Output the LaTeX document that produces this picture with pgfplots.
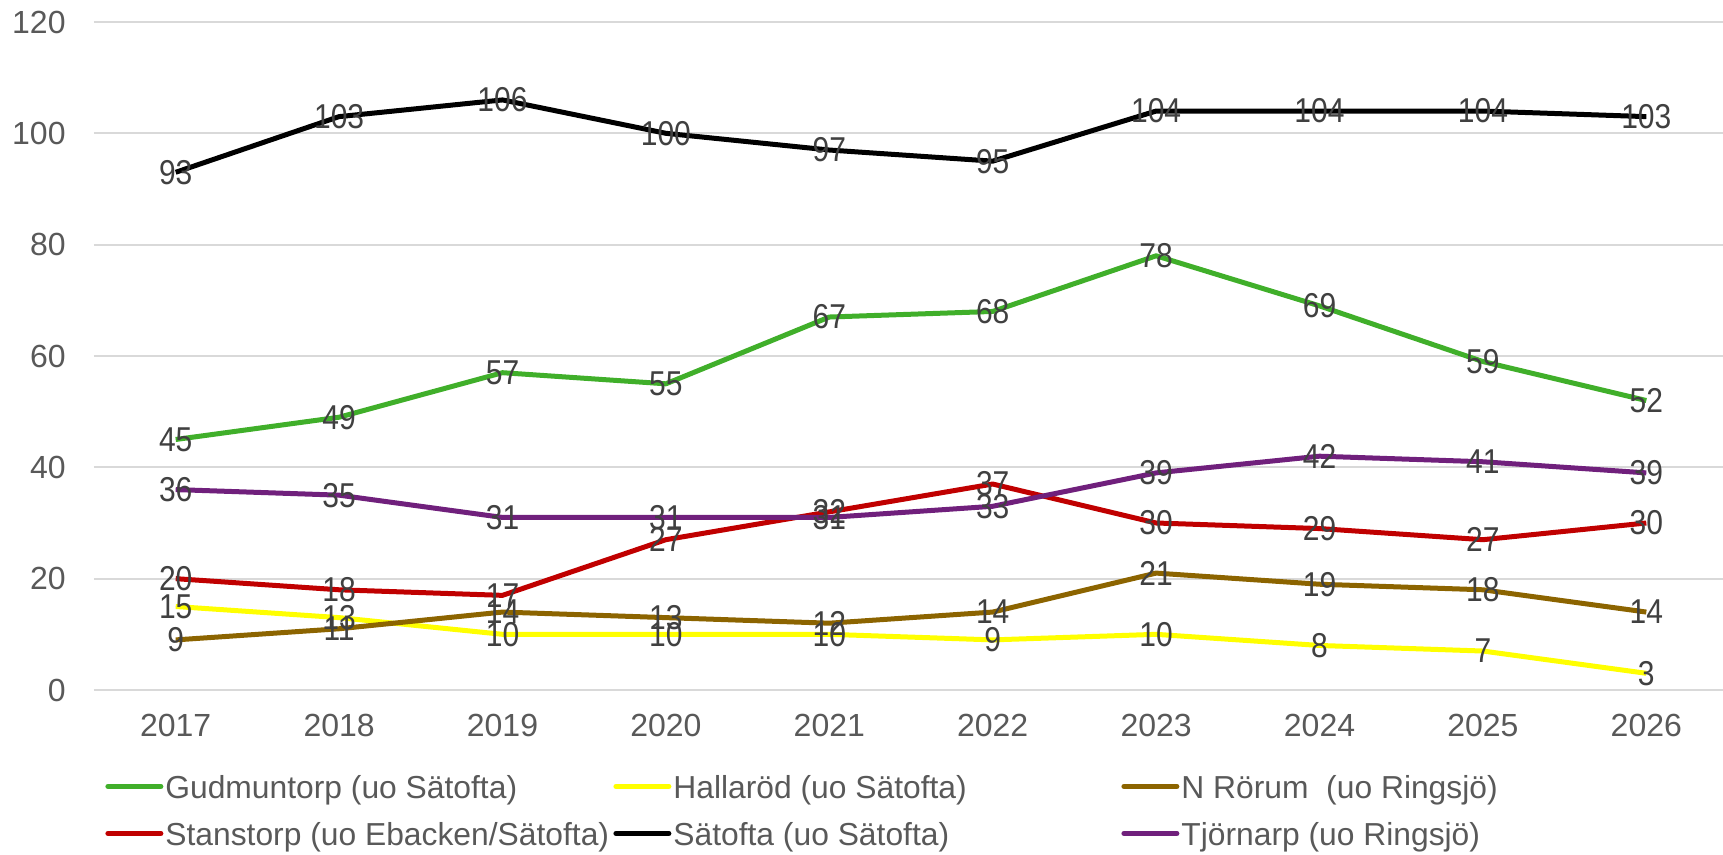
\documentclass[border=0pt]{standalone}
\usepackage{pgfplots}
\pgfplotsset{compat=1.18}
\usepackage{pgfplotstable}
\usepackage{graphicx}
\usepackage{fontspec}
\setmainfont{Liberation Sans}
\definecolor{cG}{RGB}{64,175,42}
\definecolor{cH}{RGB}{255,255,0}
\definecolor{cN}{RGB}{140,100,0}
\definecolor{cS}{RGB}{192,0,0}
\definecolor{cSa}{RGB}{0,0,0}
\definecolor{cT}{RGB}{112,32,124}
\definecolor{gridgray}{RGB}{217,217,217}
\definecolor{tickgray}{RGB}{89,89,89}
\definecolor{labgray}{RGB}{64,64,64}
\newcommand\ft{\fontsize{16}{19}\selectfont}
\newcommand\fl{\fontsize{15.9}{19}\selectfont}
\newcommand\fd{\fontsize{15}{18}\selectfont}
\pgfplotstableread{
x G H N St Sa T
0 45 15 9 20 93 36
1 49 13 11 18 103 35
2 57 10 14 17 106 31
3 55 10 13 27 100 31
4 67 10 12 32 97 31
5 68 9 14 37 95 33
6 78 10 21 30 104 39
7 69 8 19 29 104 42
8 59 7 18 27 104 41
9 52 3 14 30 103 39
}\data
\pgfplotsset{
  mylegimg/.style={legend image code/.code={\draw[#1, line cap=round] (1.25pt,2pt) -- (27.75pt,2pt);}},
  lab/.style={forget plot, only marks, mark=*, mark size=0pt, mark options={draw=none,fill=none},
    nodes near coords={\scalebox{1}[1.15]{\pgfmathprintnumber{\pgfplotspointmeta}}}},
}
\begin{document}
\begin{tikzpicture}
\useasboundingbox (-47pt,-82.5pt) rectangle (814.5pt,345pt);
\begin{axis}[
  at={(0,0)}, anchor=south west,
  scale only axis, width=817pt, height=334pt,
  xmin=-0.5, xmax=9.5, ymin=0, ymax=120,
  ytick={0,20,40,60,80,100,120},
  xtick={0,1,2,3,4,5,6,7,8,9},
  xticklabels={2017,2018,2019,2020,2021,2022,2023,2024,2025,2026},
  axis line style={draw=none},
  major tick length=0pt,
  ymajorgrids,
  grid style={line width=1pt, color=gridgray},
  /pgf/number format/assume math mode=true,
  tick label style={font=\ft, text=tickgray},
  yticklabel style={inner sep=0pt, anchor=east, xshift=-14pt},
  xticklabel style={inner sep=0pt, anchor=north, yshift=-12pt},
  clip=false,
  legend columns=3,
  legend style={at={(0,0)}, anchor=north west, xshift=5.5pt, yshift=-42.5pt,
    draw=none, fill=none, inner sep=0pt, row sep=8.5pt,
    nodes={inner sep=0pt, text height=11.5pt, text depth=3.5pt, font=\fl, text=tickgray},
    /tikz/every odd column/.append style={column sep=1pt}},
  mylegimg,
  every axis plot/.append style={line width=2.5pt, line join=round},
  every node near coord/.append style={anchor=center, font=\fd, text=labgray, inner sep=0pt},
]
\addplot[cG, mark=none] table[x=x,y=G]{\data};
\addlegendentry{\makebox[224pt][l]{Gudmuntorp (uo Sätofta)}}
\addplot[cH, mark=none] table[x=x,y=H]{\data};
\addlegendentry{\makebox[224pt][l]{Hallaröd (uo Sätofta)}}
\addplot[cN, mark=none] table[x=x,y=N]{\data};
\addlegendentry{\makebox[224pt][l]{N Rörum\ \ (uo Ringsjö)}}
\addplot[cS, mark=none] table[x=x,y=St]{\data};
\addlegendentry{\makebox[224pt][l]{Stanstorp (uo Ebacken/Sätofta)}}
\addplot[cSa, mark=none] table[x=x,y=Sa]{\data};
\addlegendentry{\makebox[224pt][l]{Sätofta (uo Sätofta)}}
\addplot[cT, mark=none] table[x=x,y=T]{\data};
\addlegendentry{\makebox[224pt][l]{Tjörnarp (uo Ringsjö)}}
\addplot[lab] table[x=x,y=G]{\data};
\addplot[lab] table[x=x,y=H]{\data};
\addplot[lab] table[x=x,y=N]{\data};
\addplot[lab] table[x=x,y=St]{\data};
\addplot[lab] table[x=x,y=Sa]{\data};
\addplot[lab] table[x=x,y=T]{\data};
\end{axis}
\end{tikzpicture}
\end{document}
